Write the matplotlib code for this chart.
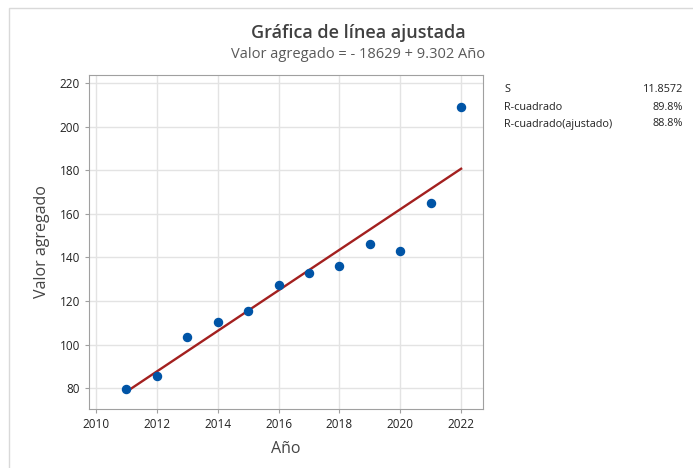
import numpy as np
import matplotlib.pyplot as plt
from matplotlib.patches import Rectangle

# data
years = [2011, 2012, 2013, 2014, 2015, 2016, 2017, 2018, 2019, 2020, 2021, 2022]
valor = [79.5, 85.5, 103.5, 110.5, 115.5, 127.5, 133, 136, 146, 143, 165, 209]

stat_names = ['S', 'R-cuadrado', 'R-cuadrado(ajustado)']
stat_values = ['11.8572', '89.8%', '88.8%']

plt.rcParams['font.family'] = ['Open Sans', 'DejaVu Sans']

fig = plt.figure(figsize=(6.93, 4.68), dpi=100)
fig.patches.append(Rectangle((9 / 693, -0.1), 1.2, 1 - 8 / 468 + 0.1, transform=fig.transFigure,
                             facecolor='none', edgecolor='#d9d9d9', linewidth=1))

ax = fig.add_axes([89 / 693, 1 - 409 / 468, 394 / 693, 334 / 468])

# fitted line
slope, intercept = np.polyfit(years, valor, 1)
xs = np.array([years[0], years[-1]])
ax.plot(xs, intercept + slope * xs, color='#a3201f', linewidth=1.7, zorder=2)
ax.plot(years, valor, 'o', color='#0054a6', markersize=5.8, zorder=3)

ax.set_xlim(2009.77, 2022.72)
ax.set_ylim(70.4, 223.7)
ax.set_xticks(range(2010, 2023, 2))
ax.set_yticks(range(80, 221, 20))
ax.grid(True, color='#e3e3e3', linewidth=1)
ax.set_axisbelow(True)
for s in ax.spines.values():
    s.set_color('#a0a0a0')
ax.tick_params(colors='#a0a0a0', labelcolor='#222222', labelsize=8.5, length=3, width=0.8)

ax.set_xlabel('Año', fontsize=11.5, color='#444444', labelpad=7)
ax.set_ylabel('Valor agregado', fontsize=11.5, color='#444444', labelpad=7)

fig.text(358 / 693, 1 - 33 / 468, 'Gráfica de línea ajustada', ha='center', va='center',
         fontsize=13, fontweight='semibold', color='#404040')
fig.text(358 / 693, 1 - 54 / 468, 'Valor agregado = - 18629 + 9.302 Año', ha='center', va='center',
         fontsize=10.5, color='#595959')

for i, (name, val) in enumerate(zip(stat_names, stat_values)):
    y = 1 - (90 + i * 17) / 468
    fig.text(504 / 693, y, name, ha='left', va='center', fontsize=7.8, color='#222222')
    fig.text(683 / 693, y, val, ha='right', va='center', fontsize=7.8, color='#222222')

fig.savefig('out.png', dpi=100)
